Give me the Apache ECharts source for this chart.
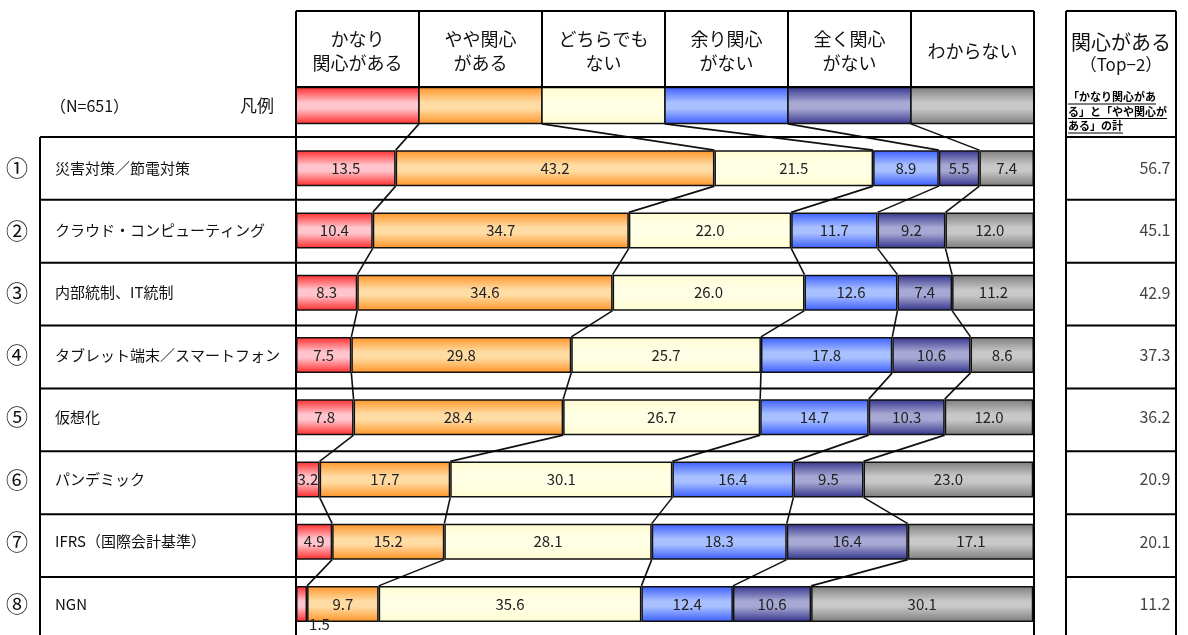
<!DOCTYPE html>
<html>
<head>
<meta charset="utf-8">
<script src="https://cdn.jsdelivr.net/npm/echarts@6/dist/echarts.min.js"></script>
<style>
html,body{margin:0;padding:0;background:#fff;}
#main{width:1188px;height:635px;}
</style>
</head>
<body>
<div id="main"></div>
<script>
// ---- data ----
const categories = ['災害対策／節電対策', 'クラウド・コンピューティング', '内部統制、IT統制', 'タブレット端末／スマートフォン', '仮想化', 'パンデミック', 'IFRS（国際会計基準）', 'NGN'];
const rowMarks = ['①', '②', '③', '④', '⑤', '⑥', '⑦', '⑧'];
const seriesNames = ['かなり\n関心がある', 'やや関心\nがある', 'どちらでも\nない', '余り関心\nがない', '全く関心\nがない', 'わからない'];
const veryInterested     = [13.5, 10.4, 8.3, 7.5, 7.8, 3.2, 4.9, 1.5];
const somewhatInterested = [43.2, 34.7, 34.6, 29.8, 28.4, 17.7, 15.2, 9.7];
const neutral            = [21.5, 22.0, 26.0, 25.7, 26.7, 30.1, 28.1, 35.6];
const notVery            = [8.9, 11.7, 12.6, 17.8, 14.7, 16.4, 18.3, 12.4];
const notAtAll           = [5.5, 9.2, 7.4, 10.6, 10.3, 9.5, 16.4, 10.6];
const unknown            = [7.4, 12.0, 11.2, 8.6, 12.0, 23.0, 17.1, 30.1];
const top2               = [56.7, 45.1, 42.9, 37.3, 36.2, 20.9, 20.1, 11.2];
const sampleLabel = '（N=651）';
const legendTitle = '凡例';
const top2Title = '関心がある';
const top2Sub = '（Top−2）';
const top2Note = ['「かなり関心があ', 'る」と「やや関心が', 'ある」の計'];

const seriesValues = [veryInterested, somewhatInterested, neutral, notVery, notAtAll, unknown];

// ---- style ----
const FONT = '"Noto Sans CJK JP", "Noto Sans", sans-serif';
const palette = [
  ['#ff2a2a', '#ffc4cc'],
  ['#ff9426', '#ffdca4'],
  ['#fffcd2', '#ffffe6'],
  ['#3a5cff', '#a8c0ff'],
  ['#33338c', '#a8a8d4'],
  ['#7c7c7c', '#c8c8c8']
];
function grad(p) {
  return new echarts.graphic.LinearGradient(0, 0, 0, 1, [
    {offset: 0, color: p[0]}, {offset: 0.42, color: p[1]},
    {offset: 0.58, color: p[1]}, {offset: 1, color: p[0]}
  ]);
}

// ---- layout ----
const L = 296, R = 1034, W = R - L;
const headTop = 11, headBottom = 87;
const gridTop = 137, rowH = 62.86, nRows = categories.length;
const gridBottom = gridTop + rowH * nRows;
const tblLeft = 40, rL = 1066, rR = 1176;
const barH = 36;
const LW = 2;

const chart = echarts.init(document.getElementById('main'));

const barSeries = seriesValues.map((vals, s) => ({
  type: 'bar',
  name: seriesNames[s],
  stack: 'total',
  barWidth: barH,
  xAxisIndex: 0, yAxisIndex: 0,
  itemStyle: {color: grad(palette[s]), borderColor: '#111', borderWidth: 1.5},
  label: {show: true, position: 'inside', color: '#222', fontSize: 15, fontFamily: FONT,
          formatter: p => p.value.toFixed(1)},
  data: vals.map(v => v < 2 ? {value: v, label: {position: 'bottom', distance: 0, offset: [18, -5]}} : v),
  z: 3
}));

// connector lines between cumulative boundaries
const connData = [];
for (let i = 0; i < nRows; i++) for (let k = 1; k < seriesValues.length; k++) connData.push([k, i]);
function cum(i, k) { let s = 0; for (let j = 0; j < k; j++) s += seriesValues[j][i]; return s; }

const connSeries = {
  type: 'custom',
  xAxisIndex: 0, yAxisIndex: 0,
  encode: {x: 0, y: 1},
  silent: true,
  z: 2,
  data: connData,
  renderItem: function (params, api) {
    const k = api.value(0), i = api.value(1);
    const band = api.size([0, 1])[1];
    const cur = api.coord([cum(i, k), i]);
    let x0, y0;
    if (i === 0) {
      const p = api.coord([k * 100 / seriesValues.length, 0]);
      x0 = p[0]; y0 = p[1] - band + barH / 2;
    } else {
      const p = api.coord([cum(i - 1, k), i - 1]);
      x0 = p[0]; y0 = p[1] + barH / 2;
    }
    return {type: 'line', shape: {x1: x0, y1: y0, x2: cur[0], y2: cur[1] - barH / 2},
            style: {stroke: '#111', lineWidth: 1.6}};
  }
};

const top2Series = {
  type: 'scatter',
  xAxisIndex: 1, yAxisIndex: 1,
  symbolSize: 1,
  itemStyle: {color: 'rgba(0,0,0,0)'},
  label: {show: true, position: 'left', distance: 5, color: '#111', fontSize: 16, fontFamily: FONT,
          formatter: p => p.value[2].toFixed(1)},
  data: top2.map((v, i) => [1, i, v]),
  silent: true
};

// ---- graphics ----
const g = [];
function line(x1, y1, x2, y2, w) {
  g.push({type: 'line', shape: {x1, y1, x2, y2}, style: {stroke: '#000', lineWidth: w || LW}, z: 10, silent: true});
}
// header box
line(L, headTop, R, headTop);
line(L, headBottom, R, headBottom);
line(L, headTop, L, gridBottom);
line(R, headTop, R, gridBottom);
const colW = W / seriesNames.length;
for (let k = 1; k < seriesNames.length; k++) line(L + k * colW, headTop, L + k * colW, headBottom);
seriesNames.forEach((n, k) => {
  g.push({type: 'text', x: L + (k + 0.5) * colW, y: (headTop + headBottom) / 2 + 2, z: 10, silent: true,
    style: {text: n, fill: '#111', font: '18px ' + FONT, textAlign: 'center', textVerticalAlign: 'middle', lineHeight: 24}});
});
// legend boxes
const legendCenter = gridTop - rowH / 2;
seriesNames.forEach((n, k) => {
  g.push({type: 'rect', shape: {x: L + k * colW, y: legendCenter - barH / 2, width: colW, height: barH}, z: 5, silent: true,
    style: {fill: grad(palette[k]), stroke: '#111', lineWidth: 1.5}});
});
// row separators
for (let i = 0; i < nRows; i++) {
  const y = gridTop + i * rowH;
  line(tblLeft, y, R, y);
  line(rL, y, rR, y);
}
line(tblLeft, gridTop, tblLeft, gridBottom);
// right table
line(rL, headTop, rR, headTop);
line(rL, headTop, rL, gridBottom);
line(rR, headTop, rR, gridBottom);
g.push({type: 'text', x: (rL + rR) / 2, y: 42, z: 10, silent: true,
  style: {text: top2Title, fill: '#111', font: '20px ' + FONT, textAlign: 'center', textVerticalAlign: 'middle'}});
g.push({type: 'text', x: (rL + rR) / 2, y: 65, z: 10, silent: true,
  style: {text: top2Sub, fill: '#111', font: '17px ' + FONT, textAlign: 'center', textVerticalAlign: 'middle'}});
const measure = document.createElement('canvas').getContext('2d');
const noteFont = 'bold 11px ' + FONT;
measure.font = noteFont;
top2Note.forEach((t, j) => {
  const y = 97 + j * 14.5;
  g.push({type: 'text', x: rL + 2, y: y, z: 10, silent: true,
    style: {text: t, fill: '#000', font: noteFont, textAlign: 'left', textVerticalAlign: 'middle'}});
  const w = measure.measureText(t).width;
  line(rL + 2, y + 7, rL + 2 + w, y + 7, 1.2);
});
// left header text
g.push({type: 'text', x: 50, y: legendCenter, z: 10, silent: true,
  style: {text: sampleLabel, fill: '#111', font: '16px ' + FONT, textAlign: 'left', textVerticalAlign: 'middle'}});
g.push({type: 'text', x: 240, y: legendCenter, z: 10, silent: true,
  style: {text: legendTitle, fill: '#111', font: '17px ' + FONT, textAlign: 'left', textVerticalAlign: 'middle'}});

const option = {
  backgroundColor: '#fff',
  animation: false,
  textStyle: {fontFamily: FONT},
  grid: [
    {left: L, top: gridTop, width: W, height: rowH * nRows},
    {left: rL, top: gridTop, width: rR - rL, height: rowH * nRows}
  ],
  xAxis: [
    {type: 'value', gridIndex: 0, min: 0, max: 100, show: false},
    {type: 'value', gridIndex: 1, min: 0, max: 1, show: false}
  ],
  yAxis: [
    {type: 'category', gridIndex: 0, inverse: true, data: categories,
     axisLine: {show: false}, axisTick: {show: false}, splitLine: {show: false},
     axisLabel: {interval: 0, margin: L - 6, align: 'left', color: '#111',
       formatter: (v, i) => '{n|' + rowMarks[i] + '}{t|' + v + '}',
       rich: {n: {width: 49, fontSize: 22, fontFamily: FONT, color: '#111'},
              t: {fontSize: 15, fontFamily: FONT, color: '#111'}}}},
    {type: 'category', gridIndex: 1, inverse: true, data: categories, show: false}
  ],
  graphic: g,
  series: [...barSeries, connSeries, top2Series]
};
chart.setOption(option);
</script>
</body>
</html>
